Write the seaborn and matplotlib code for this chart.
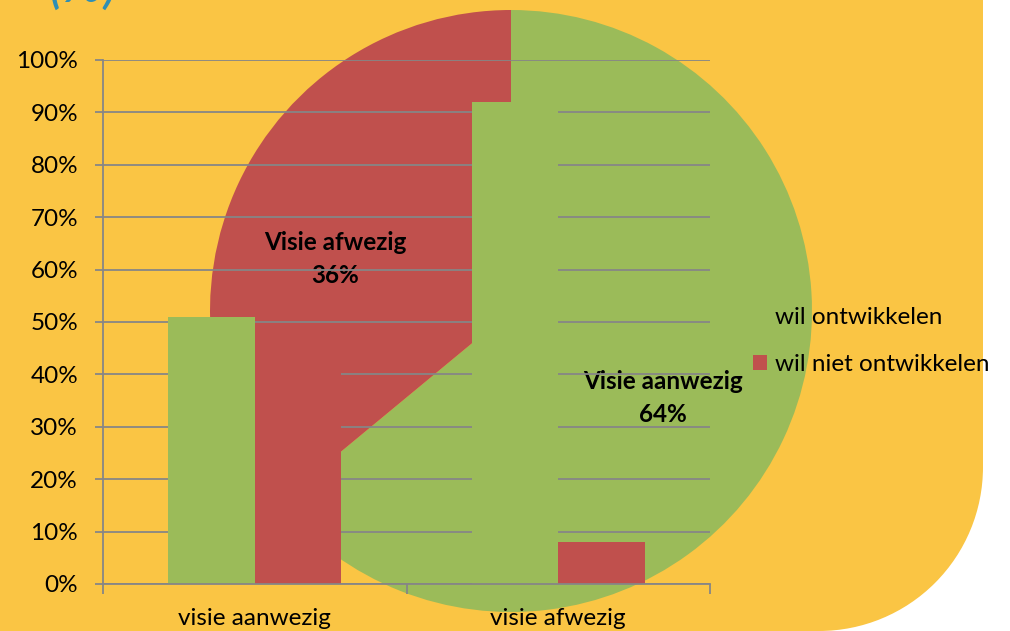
import matplotlib
matplotlib.use("Agg")
import matplotlib.pyplot as plt
from matplotlib.patches import Rectangle, Circle
import pandas as pd
import seaborn as sns

# bar chart data (percent)
categories = ["visie aanwezig", "visie afwezig"]
series_names = ["wil ontwikkelen", "wil niet ontwikkelen"]
wil_ontwikkelen = [51, 92]
wil_niet_ontwikkelen = [49, 8]
y_ticks = [0, 10, 20, 30, 40, 50, 60, 70, 80, 90, 100]

# pie data behind the bars
pie_labels = ["Visie aanwezig", "Visie afwezig"]
pie_values = [64, 36]

green = "#9BBB59"
red = "#C0504D"
orange = "#FAC544"
gray = "#868686"

sns.set_style("white")
plt.rcParams["font.family"] = ["Lato", "DejaVu Sans"]
plt.rcParams["text.color"] = "black"
plt.rcParams["xtick.color"] = "black"
plt.rcParams["ytick.color"] = "black"

df = pd.DataFrame({
    "categorie": categories * 2,
    "reeks": [series_names[0]] * 2 + [series_names[1]] * 2,
    "waarde": wil_ontwikkelen + wil_niet_ontwikkelen,
})

fig = plt.figure(figsize=(10.1, 6.31), dpi=100)
fig.patch.set_facecolor("white")

# orange slide background with rounded bottom-right corner
bg = fig.add_axes([0, 0, 1, 1])
bg.set_xlim(0, 1010)
bg.set_ylim(631, 0)
bg.axis("off")
bg.add_patch(Rectangle((0, 0), 983, 467, color=orange, lw=0))
bg.add_patch(Rectangle((0, 0), 819, 631, color=orange, lw=0))
bg.add_patch(Circle((819, 467), 164, color=orange, lw=0))
fig.text(0.048, 0.997, "(%)", fontsize=40, color="#2E8FB5", style="italic",
         va="baseline", ha="left")

# pie chart
pax = fig.add_axes([210 / 1010, 1 - 612 / 631, 602 / 1010, 602 / 631])
pax.pie(pie_values, colors=[green, red], startangle=90, counterclock=False,
        wedgeprops=dict(linewidth=0))
pax.set_xlim(-1, 1)
pax.set_ylim(-1, 1)
pax.axis("off")
pax.text(0.505, -0.289, f"{pie_labels[0]}\n{pie_values[0]}%", ha="center", va="center",
         fontsize=17.5, fontweight="bold", linespacing=1.5)
pax.text(-0.585, 0.173, f"{pie_labels[1]}\n{pie_values[1]}%", ha="center", va="center",
         fontsize=17.5, fontweight="bold", linespacing=1.5)

# bar chart on top
ax = fig.add_axes([103 / 1010, 1 - 584 / 631, 607 / 1010, 524 / 631])
ax.patch.set_alpha(0)
sns.barplot(data=df, x="categorie", y="waarde", hue="reeks", palette=[green, red],
            width=0.57, gap=0, saturation=1, linewidth=0, ax=ax)
ax.set_xlim(-0.5, 1.5)
ax.set_ylim(0, 100)
ax.set_yticks(y_ticks)
ax.set_yticklabels([f"{t}%" for t in y_ticks])
ax.set_xlabel("")
ax.set_ylabel("")
ax.yaxis.grid(True, color=gray, lw=1.3)
ax.set_axisbelow(True)
for s in ["top", "right"]:
    ax.spines[s].set_visible(False)
for s in ["left", "bottom"]:
    ax.spines[s].set_color(gray)
    ax.spines[s].set_linewidth(1.3)
ax.tick_params(axis="y", left=True, length=6, width=1.3, color=gray, pad=12,
               labelsize=17.5, labelcolor="black")
ax.tick_params(axis="x", length=0, pad=17.5, labelsize=17.5, labelcolor="black")
ax.set_xticks([-0.5, 0.5, 1.5], minor=True)
ax.tick_params(axis="x", which="minor", bottom=True, length=7, width=1.3, color=gray)

handles, labels = ax.get_legend_handles_labels()
ax.legend(handles, labels, loc="center left", bbox_to_anchor=(753 / 1010, 1 - 341 / 631),
          bbox_transform=fig.transFigure, frameon=False, fontsize=17.5,
          handlelength=0.58, handleheight=0.58, handletextpad=0.33, labelspacing=1.05,
          borderpad=0, borderaxespad=0)

fig.savefig("out.png", dpi=100)
